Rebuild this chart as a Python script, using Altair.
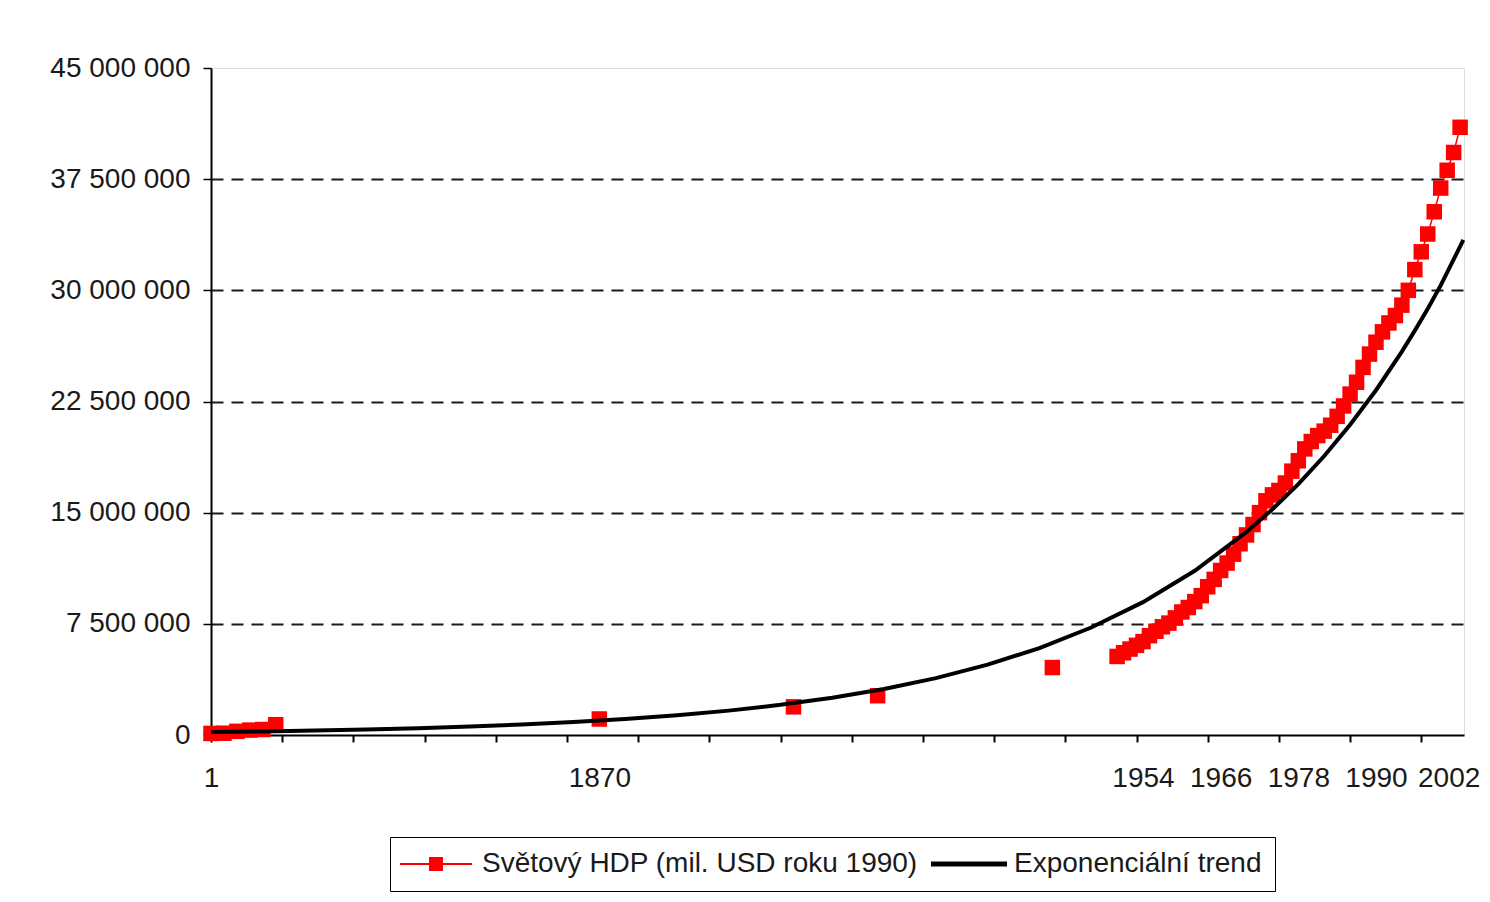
import altair as alt
import pandas as pd

S1 = "Světový HDP (mil. USD roku 1990)"
S2 = "Exponenciální trend"

# --- data (category index on the Excel category axis, year, world GDP in mil. USD 1990)
early_idx = [0, 2, 4, 6, 8, 10, 60, 90, 103, 130]
early_year = [1, 1000, 1500, 1600, 1700, 1820, 1870, 1900, 1913, 1940]
early_gdp = [105000, 121000, 248000, 331000, 371000, 694000, 1080000, 1900000, 2650000, 4550000]

annual_year = [1950, 1951, 1952, 1953, 1954, 1955, 1956, 1957, 1958, 1959,
               1960, 1961, 1962, 1963, 1964, 1965, 1966, 1967, 1968, 1969,
               1970, 1971, 1972, 1973, 1974, 1975, 1976, 1977, 1978, 1979,
               1980, 1981, 1982, 1983, 1984, 1985, 1986, 1987, 1988, 1989,
               1990, 1991, 1992, 1993, 1994, 1995, 1996, 1997, 1998, 1999,
               2000, 2001, 2002, 2003]
annual_idx = [140, 141, 142, 143, 144, 145, 146, 147, 148, 149,
              150, 151, 152, 153, 154, 155, 156, 157, 158, 159,
              160, 161, 162, 163, 164, 165, 166, 167, 168, 169,
              170, 171, 172, 173, 174, 175, 176, 177, 178, 179,
              180, 181, 182, 183, 184, 185, 186, 187, 188, 189,
              190, 191, 192, 193]
annual_gdp = [5300000, 5550000, 5800000, 6050000, 6300000, 6700000, 7000000, 7300000, 7550000, 7900000,
              8300000, 8600000, 9000000, 9400000, 10000000, 10500000, 11100000, 11600000, 12200000, 12900000,
              13500000, 14200000, 15000000, 15800000, 16200000, 16500000, 17000000, 17800000, 18500000, 19300000,
              19800000, 20200000, 20500000, 20900000, 21500000, 22200000, 23000000, 23800000, 24800000, 25700000,
              26500000, 27200000, 27800000, 28300000, 29000000, 30000000, 31400000, 32600000, 33800000, 35300000,
              36900000, 38100000, 39300000, 41000000]

# exponential trend line
trend_idx = [0, 8, 16, 24, 32, 40, 48, 56, 64, 72, 80, 88, 96, 104, 112, 120, 128, 136,
             144, 152, 160, 164, 168, 172, 176, 180, 184, 186, 188, 190, 193.5]
trend_gdp = [198000, 244000, 302000, 373000, 461000, 570000, 705000, 871000, 1076000, 1331000,
             1645000, 2034000, 2513000, 3106000, 3840000, 4747000, 5866000, 7252000,
             8963000, 11080000, 13700000, 15230000, 16930000, 18820000, 20930000, 23260000,
             25870000, 27280000, 28760000, 30330000, 33400000]

# axis categories
tick_idx = [0, 11, 22, 33, 44, 55, 66, 77, 88, 99, 110, 121, 132, 143, 154, 165, 176, 187]
label_idx = [0, 60, 144, 156, 168, 180, 192]
label_txt = ["1", "1870", "1954", "1966", "1978", "1990", "2002"]
y_ticks = [0, 7500000, 15000000, 22500000, 30000000, 37500000, 45000000]

pts = pd.DataFrame({
    "idx": early_idx + annual_idx,
    "year": early_year + annual_year,
    "gdp": early_gdp + annual_gdp,
    "series": S1,
})
trend = pd.DataFrame({"idx": trend_idx, "gdp": trend_gdp, "series": S2})

FONT = "Liberation Sans"

label_expr = "".join(f"datum.value == {i} ? '{t}' : " for i, t in zip(label_idx, label_txt)) + "''"
tick_test = "indexof([" + ",".join(str(t) for t in tick_idx) + "], datum.value) >= 0"

x_axis = alt.Axis(
    values=sorted(set(tick_idx + label_idx)),
    labelExpr=label_expr,
    title=None, grid=False,
    domainColor="#000000", domainWidth=2,
    tickColor="#000000", tickWidth=2, tickSize=7,
    tickOpacity={"condition": {"test": tick_test, "value": 1}, "value": 0},
    labelFont=FONT, labelFontSize=28, labelColor="#1a1a1a",
    labelOffset={"condition": {"test": f"datum.value == {label_idx[-1]}", "value": -5}, "value": 0},
    labelPadding=22, labelOverlap=False, labelFlush=False,
)
y_axis = alt.Axis(
    values=y_ticks,
    labelExpr="replace(format(datum.value, ','), regexp(',', 'g'), ' ')",
    title=None, grid=True,
    gridColor="#1a1a1a", gridDash=[12, 8], gridWidth=2,
    gridOpacity={"condition": {"test": "datum.value <= 0 || datum.value >= 45000000", "value": 0}, "value": 1},
    domainColor="#000000", domainWidth=2,
    tickColor="#000000", tickWidth=1.5, tickSize=8,
    labelFont=FONT, labelFontSize=28, labelColor="#1a1a1a",
    labelPadding=13,
)

x = alt.X("idx:Q", scale=alt.Scale(domain=[0, 193.6], nice=False, zero=False), axis=x_axis)
y = alt.Y("gdp:Q", scale=alt.Scale(domain=[0, 45000000], nice=False), axis=y_axis)

color_scale = alt.Scale(domain=[S1, S2], range=["#ff0000", "#000000"])
shape_scale = alt.Scale(
    domain=[S1, S2],
    range=["M-3.6,-0.1H3.6V0.1H-3.6Z M-0.7,-0.7H0.7V0.7H-0.7Z", "M-3.7,-0.25H3.9V0.25H-3.7Z"],
)

legend = alt.Legend(
    title=None, orient="none", legendX=179, legendY=769, direction="horizontal",
    labelFont=FONT, labelFontSize=28, labelColor="#1a1a1a", labelLimit=800,
    symbolSize=400, symbolStrokeWidth=0, symbolOpacity=1, symbolOffset=19,
    labelOffset=32, columnPadding=13, padding=13,
    strokeColor="#000000", fillColor="#ffffff",
)

dummy = alt.Chart(pts).transform_filter("false").mark_point(filled=True, opacity=1).encode(
    x=x, y=y,
    color=alt.Color("series:N", scale=color_scale, legend=legend),
    shape=alt.Shape("series:N", scale=shape_scale, legend=legend),
)
points = alt.Chart(pts).mark_point(filled=True, shape="square", size=240, opacity=1).encode(
    x=x, y=y, color=alt.Color("series:N", scale=color_scale, legend=None),
)
redline = alt.Chart(pts).transform_filter("datum.year >= 1950").mark_line(strokeWidth=1.5).encode(
    x=x, y=y, color=alt.Color("series:N", scale=color_scale, legend=None),
)
trendline = alt.Chart(trend).mark_line(strokeWidth=4).encode(
    x=x, y=y, color=alt.Color("series:N", scale=color_scale, legend=None),
)

chart = alt.layer(dummy, points, redline, trendline).properties(
    width=1253, height=667,
    autosize=alt.AutoSizeParams(type="none"),
    padding={"left": 203, "top": 60, "right": 18, "bottom": 159},
    background="#ffffff",
).configure_view(stroke="#999999", strokeWidth=2).configure(font=FONT)

chart.save("out.html", embed_options={"renderer": "svg", "actions": False})
